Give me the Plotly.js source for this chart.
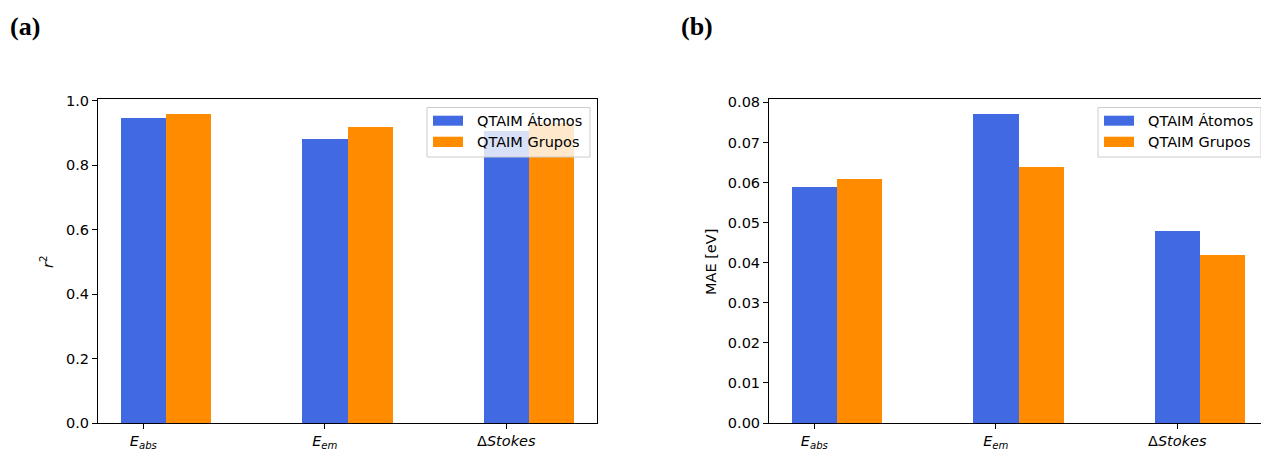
<!DOCTYPE html>
<html>
<head>
<meta charset="utf-8">
<script src="https://cdn.plot.ly/plotly-3.0.1.min.js"></script>
<style>
html,body{margin:0;padding:0;overflow:hidden;background:#fff;}
#chart{width:1275px;height:450px;}
</style>
</head>
<body>
<div id="chart"></div>
<script>
// ---- data ----
const categories = ['<i>E</i><sub><i>abs</i></sub>', '<i>E</i><sub><i>em</i></sub>', 'Δ<i>Stokes</i>'];
const seriesNames = ['QTAIM Átomos', 'QTAIM Grupos'];
const r2Atomos = [0.946, 0.883, 0.906];
const r2Grupos = [0.958, 0.920, 0.931];
const maeAtomos = [0.059, 0.077, 0.048];
const maeGrupos = [0.061, 0.064, 0.042];
const colors = ['#4169E1', '#FF8C00'];
const panelLabels = ['(a)', '(b)'];
const yTitles = ['<i>r</i><sup>2</sup>', 'MAE [eV]'];

// ---- layout helpers ----
const W = 1275, H = 450;
const xp = px => px / W;
const yp = py => 1 - py / H;
const barW = 0.25;
const idx = categories.map((_, i) => i);
const shifted = idx.map(i => i + barW);

const traces = [
  {type:'bar', x: idx, y: r2Atomos, width: barW, marker:{color:colors[0]}, name:seriesNames[0], xaxis:'x', yaxis:'y', hoverinfo:'y'},
  {type:'bar', x: shifted, y: r2Grupos, width: barW, marker:{color:colors[1]}, name:seriesNames[1], xaxis:'x', yaxis:'y', hoverinfo:'y'},
  {type:'bar', x: idx, y: maeAtomos, width: barW, marker:{color:colors[0]}, name:seriesNames[0], xaxis:'x2', yaxis:'y2', hoverinfo:'y'},
  {type:'bar', x: shifted, y: maeGrupos, width: barW, marker:{color:colors[1]}, name:seriesNames[1], xaxis:'x2', yaxis:'y2', hoverinfo:'y'}
];

const FS = 14.5;
const tickFont = {family:'DejaVu Sans', size:FS, color:'#000'};
const axisCommon = {showline:true, linecolor:'#000', linewidth:1, mirror:true, ticks:'outside', ticklen:5, tickwidth:1, tickcolor:'#000', showgrid:false, zeroline:false, tickfont:tickFont};

const panels = [
  {left:98, right:597, labelX:25, ytitleX:47},
  {left:769, right:1268, labelX:697, ytitleX:711}
];

const shapes = [], annotations = [];
panels.forEach((p, k) => {
  const R = p.right;
  // legend box
  shapes.push({type:'rect', xref:'paper', yref:'paper', x0:xp(R-170), x1:xp(R-7), y0:yp(157), y1:yp(107.5),
    fillcolor:'rgba(255,255,255,0.8)', line:{color:'#cccccc', width:1}, layer:'above'});
  [[115.7,125.7,120.7],[136.7,147,142]].forEach((rowY, j) => {
    shapes.push({type:'rect', xref:'paper', yref:'paper', x0:xp(R-164), x1:xp(R-134), y0:yp(rowY[1]), y1:yp(rowY[0]),
      fillcolor:colors[j], line:{width:0}, layer:'above'});
    annotations.push({xref:'paper', yref:'paper', x:xp(R-122), y:yp(rowY[2]), xanchor:'left', yanchor:'middle',
      text:seriesNames[j], showarrow:false, font:{family:'DejaVu Sans', size:FS, color:'#000'}});
  });
  // panel label
  annotations.push({xref:'paper', yref:'paper', x:xp(p.labelX), y:yp(26), xanchor:'center', yanchor:'middle',
    text:'<b>'+panelLabels[k]+'</b>', showarrow:false, font:{family:'Liberation Serif', size:26, color:'#000'}});
  // y title
  annotations.push({xref:'paper', yref:'paper', x:xp(p.ytitleX), y:yp(262), xanchor:'center', yanchor:'middle',
    text:yTitles[k], textangle:-90, showarrow:false, font:{family:'DejaVu Sans', size:FS, color:'#000'}});
});

const layout = {
  width: W, height: H,
  margin:{l:0, r:0, t:0, b:0},
  paper_bgcolor:'#fff', plot_bgcolor:'#fff',
  showlegend:false, barmode:'overlay', bargap:0,
  xaxis: Object.assign({}, axisCommon, {domain:[xp(98), xp(597)], range:[-0.25, 2.5], tickvals:idx, ticktext:categories, anchor:'y'}),
  yaxis: Object.assign({}, axisCommon, {domain:[yp(423), yp(99)], range:[0, 1.006], dtick:0.2, tickformat:'.1f', anchor:'x'}),
  xaxis2: Object.assign({}, axisCommon, {domain:[xp(769), xp(1268)], range:[-0.25, 2.5], tickvals:idx, ticktext:categories, anchor:'y2'}),
  yaxis2: Object.assign({}, axisCommon, {domain:[yp(423), yp(99)], range:[0, 0.08085], dtick:0.01, tickformat:'.2f', anchor:'x2'}),
  shapes: shapes,
  annotations: annotations
};

Plotly.newPlot('chart', traces, layout, {displayModeBar:false, staticPlot:true});
</script>
</body>
</html>
